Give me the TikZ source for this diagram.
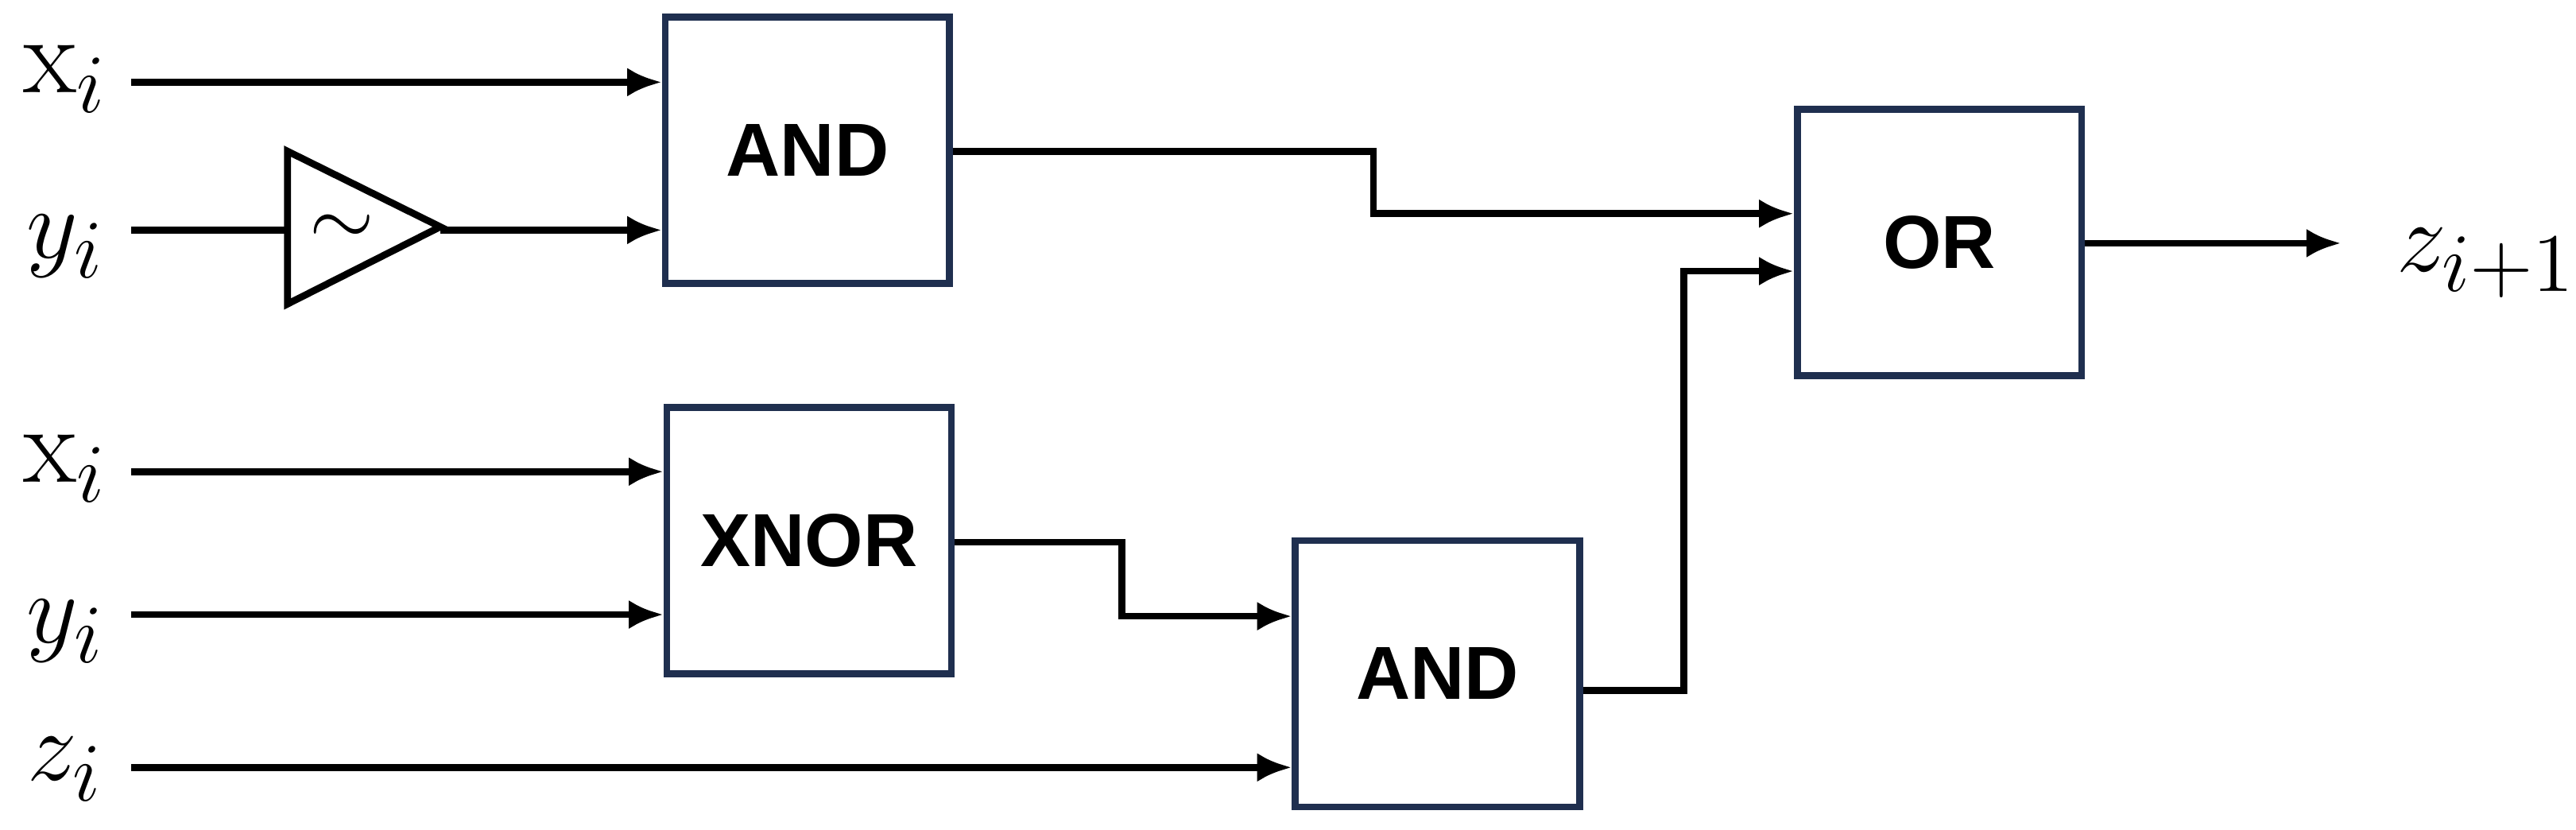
\documentclass[tikz,border=0pt]{standalone}
\usepackage{fontspec}
\setsansfont{Liberation Sans}
\usetikzlibrary{arrows.meta}
\definecolor{navy}{HTML}{1F2F4F}
\begin{document}
\begin{tikzpicture}[x=0.01cm,y=-0.01cm,
  box/.style={draw=navy,line width=1.2pt,minimum width=1.73cm,minimum height=1.62cm,font=\sffamily\bfseries\fontsize{13}{15}\selectfont},
  w/.style={line width=1.2pt},
  a/.style={w,-{Latex[length=6pt,width=5pt]}},
  lab/.style={font=\fontsize{19}{23}\selectfont}]
\useasboundingbox (0,0) rectangle (1568,505);
\node[box] (and1) at (491.5,91.5) {AND};
\node[box] (xnor) at (492.5,329) {XNOR};
\node[box] (and2) at (875,410) {AND};
\node[box] (or) at (1180.5,147.5) {OR};
\draw[w] (175,92) -- (175,185) -- (268,138) -- cycle;
\node[font=\fontsize{15}{18}\selectfont] (neg) at (208,140) {$\sim$};
\coordinate (ngin) at (175,140); \coordinate (ngout) at (268,140);
\node[lab] (x1) at (40,48) {$\mathrm{x}_i$};
\node[lab] (y1) at (40,150) {$y_i$};
\node[lab] (x2) at (40,285) {$\mathrm{x}_i$};
\node[lab] (y2) at (40,384) {$y_i$};
\node[lab] (z1) at (40,468) {$z_i$};
\node[lab,anchor=west,inner sep=0pt] (zo) at (1458,160) {$z_{i+1}$};
\coordinate (s1) at (80,50); \coordinate (s2) at (80,140);
\coordinate (s3) at (80,287); \coordinate (s4) at (80,374); \coordinate (s5) at (80,467);
\draw[a] (s1) -- (s1 -| and1.west);
\draw[w] (s2) -- (ngin);
\draw[a] (ngout) -- (ngout -| and1.west);
\draw[a] (s3) -- (s3 -| xnor.west);
\draw[a] (s4) -- (s4 -| xnor.west);
\draw[a] (s5) -- (s5 -| and2.west);
\draw[a] (and1.east |- 0,92) -- (836,92) -- (836,130) -- (or.west |- 0,130);
\draw[a] (xnor.east |- 0,330) -- (683,330) -- (683,375) -- (and2.west |- 0,375);
\draw[a] (and2.east |- 0,420) -- (1025,420) -- (1025,165) -- (or.west |- 0,165);
\draw[a] (or.east |- 0,148) -- (1425,148);
\end{tikzpicture}
\end{document}
